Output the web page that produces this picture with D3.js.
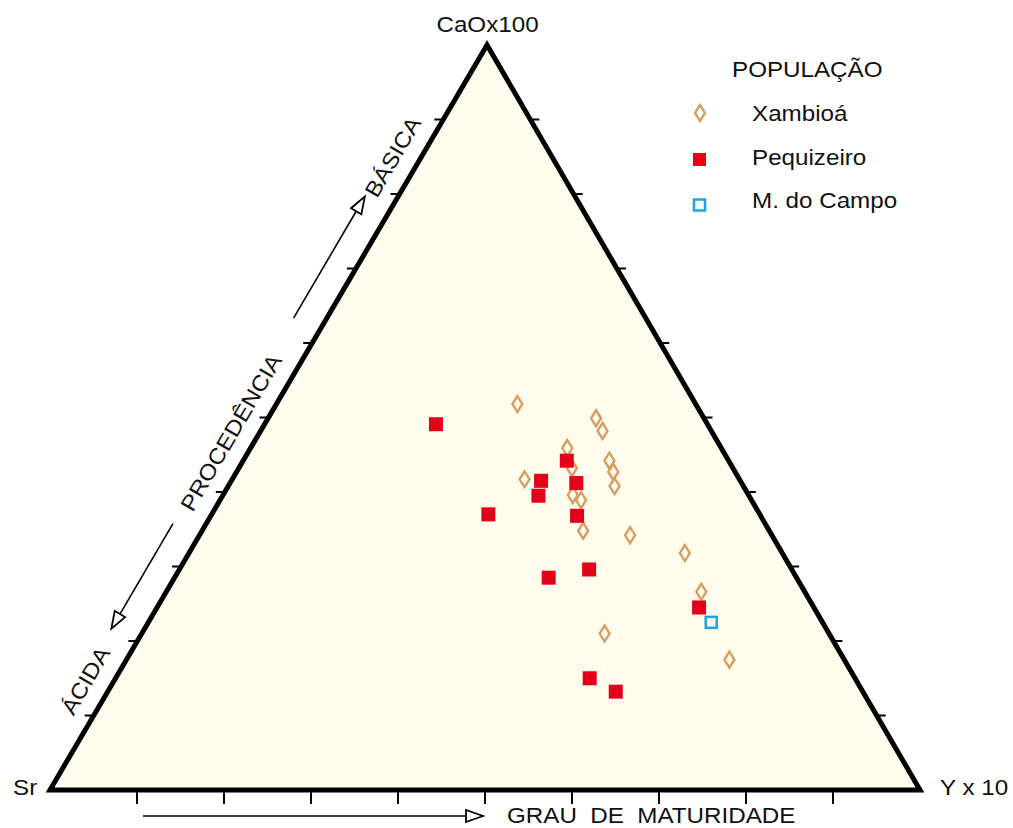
<!DOCTYPE html>
<html>
<head>
<meta charset="utf-8">
<script src="https://cdn.jsdelivr.net/npm/d3@7"></script>
<style>
  html, body { margin: 0; padding: 0; background: #ffffff; }
  svg { display: block; }
  text { font-family: "Liberation Sans", Arial, Helvetica, sans-serif; fill: #111; white-space: pre; }
</style>
</head>
<body>
<svg id="chart" width="1013" height="828"></svg>
<script>
// Compositions in percent: CaO x100, Sr, Y x10
const xambiCaO = [51.8, 49.9, 48.2, 45.9, 43.2, 44.2, 42.7, 40.8, 41.7, 39.6, 38.9, 34.8, 34.2, 31.8, 26.6, 21.0, 17.5];
const xambiSr  = [20.5, 12.4, 12.5, 17.7, 18.5, 13.7, 14.0, 14.8, 24.7, 20.2, 19.6, 21.4, 16.3, 11.2, 11.9, 25.8, 13.2];
const xambiY   = [27.7, 37.7, 39.3, 36.4, 38.3, 42.1, 43.3, 44.4, 33.6, 40.2, 41.5, 43.8, 49.5, 57.0, 61.5, 53.2, 69.3];

const pequiCaO = [49.1, 44.2, 41.5, 41.2, 39.5, 37.0, 36.8, 29.6, 28.5, 24.5, 15.0, 13.2];
const pequiSr  = [31.2, 18.6, 22.9, 19.0, 24.2, 31.2, 21.1, 23.3, 28.5, 13.2, 30.5, 28.4];
const pequiY   = [19.7, 37.2, 35.6, 39.8, 36.3, 31.8, 42.1, 47.1, 43.0, 62.3, 54.5, 58.4];

const campoCaO = [22.5];
const campoSr  = [12.8];
const campoY   = [64.7];

const vertexLabels = ["CaOx100", "Sr", "Y x 10"];
const legendTitle = "POPULAÇÃO";
const seriesNames = ["Xambioá", "Pequizeiro", "M. do Campo"];
const sideLabels = ["BÁSICA", "PROCEDÊNCIA", "ÁCIDA"];
const baseLabel = "GRAU  DE  MATURIDADE";
const tickFractions = d3.range(1, 10).map(i => i / 10);

// ---- geometry ----
const left = 50, right = 920, base = 790, apexX = 487, apexY = 45;
const apexShare = (apexX - left) / (right - left);
const x = d3.scaleLinear().domain([0, 100]).range([left, right]);
const y = d3.scaleLinear().domain([0, 100]).range([base, apexY]);

// ternary point -> screen
function project(cao, sr, yy) {
  const s = cao + sr + yy;
  const a = cao / s * 100, c = yy / s * 100;
  return [x(c + a * apexShare), y(a)];
}

const svg = d3.select("#chart");
const SX = 1.1; // horizontal stretch of lettering

const A = project(100, 0, 0), B = project(0, 100, 0), C = project(0, 0, 100);

// triangle body
svg.append("path")
  .attr("d", d3.line()([A, B, C]) + "Z")
  .attr("fill", "#fffcee")
  .attr("stroke", "#000")
  .attr("stroke-width", 5)
  .attr("stroke-linejoin", "miter");

// ticks
const tickG = svg.append("g").attr("stroke", "#000").attr("stroke-width", 2);
tickFractions.forEach(t => {
  const pl = project(t * 100, (1 - t) * 100, 0);
  tickG.append("line").attr("x1", pl[0]).attr("y1", pl[1]).attr("x2", pl[0] - 9).attr("y2", pl[1]);
  const pr = project(t * 100, 0, (1 - t) * 100);
  tickG.append("line").attr("x1", pr[0]).attr("y1", pr[1]).attr("x2", pr[0] + 9).attr("y2", pr[1]);
  const pb = project(0, (1 - t) * 100, t * 100);
  tickG.append("line").attr("x1", pb[0]).attr("y1", pb[1]).attr("x2", pb[0]).attr("y2", pb[1] + 14);
});

// text helper
function label(txt, px, py, opts = {}) {
  const rot = opts.rotate || 0;
  return svg.append("text")
    .attr("transform", `translate(${px},${py}) rotate(${rot}) scale(${SX},1)`)
    .attr("text-anchor", opts.anchor || "start")
    .attr("font-size", opts.size || 22)
    .attr("xml:space", "preserve")
    .text(txt);
}

// vertex labels
label(vertexLabels[0], 487.5, 32, { anchor: "middle" });
label(vertexLabels[1], 13, 795);
label(vertexLabels[2], 940, 795);
label(baseLabel, 507, 823);

// side-edge direction and outward normal (left edge, Sr -> CaO)
const edgeLen = Math.hypot(A[0] - B[0], A[1] - B[1]);
const ux = (A[0] - B[0]) / edgeLen, uy = (A[1] - B[1]) / edgeLen;
const nx = uy, ny = -ux; // outward (left-up)
const edgeAngle = Math.atan2(uy, ux) * 180 / Math.PI;
function alongEdge(f, off) {
  return [B[0] + ux * edgeLen * f + nx * off, B[1] + uy * edgeLen * f + ny * off];
}

// rotated side labels
[[sideLabels[0], 0.833], [sideLabels[1], 0.463], [sideLabels[2], 0.130]].forEach(([txt, f]) => {
  const p = alongEdge(f, 17);
  label(txt, p[0], p[1], { anchor: "middle", rotate: edgeAngle });
});

// open-headed arrows
function arrow(s, t) {
  const len = Math.hypot(t[0] - s[0], t[1] - s[1]);
  const dx = (t[0] - s[0]) / len, dy = (t[1] - s[1]) / len;
  const hl = 17, hw = 6;
  const bx = t[0] - dx * hl, by = t[1] - dy * hl;
  svg.append("line").attr("x1", s[0]).attr("y1", s[1]).attr("x2", bx).attr("y2", by)
    .attr("stroke", "#000").attr("stroke-width", 1.6);
  svg.append("path")
    .attr("d", d3.line()([[bx - dy * hw, by + dx * hw], t, [bx + dy * hw, by - dx * hw]]) + "Z")
    .attr("fill", "#fff").attr("stroke", "#000").attr("stroke-width", 1.8);
}
arrow(alongEdge(0.614, 28.7), alongEdge(0.777, 28.7));
arrow(alongEdge(0.338, 28.7), alongEdge(0.197, 28.7));
arrow([143, 816], [483, 816]);

// markers
const diamond = "M0,-8L5,0L0,8L-5,0Z";
function pts(cao, sr, yy) { return cao.map((v, i) => project(v, sr[i], yy[i])); }

svg.append("g").selectAll("path").data(pts(xambiCaO, xambiSr, xambiY)).join("path")
  .attr("d", diamond)
  .attr("transform", d => `translate(${d[0]},${d[1]})`)
  .attr("fill", "none").attr("stroke", "#d69e62").attr("stroke-width", 2.4);

svg.append("g").selectAll("rect").data(pts(pequiCaO, pequiSr, pequiY)).join("rect")
  .attr("x", d => d[0] - 7).attr("y", d => d[1] - 7)
  .attr("width", 14).attr("height", 14)
  .attr("fill", "#e2001a");

svg.append("g").selectAll("rect").data(pts(campoCaO, campoSr, campoY)).join("rect")
  .attr("x", d => d[0] - 5.5).attr("y", d => d[1] - 5.5)
  .attr("width", 11).attr("height", 11)
  .attr("fill", "none").attr("stroke", "#1ba5e0").attr("stroke-width", 2.5);

// legend
label(legendTitle, 732, 77);
const lg = svg.append("g");
lg.append("path").attr("d", diamond).attr("transform", "translate(700,113)")
  .attr("fill", "none").attr("stroke", "#d69e62").attr("stroke-width", 2.4);
lg.append("rect").attr("x", 693).attr("y", 153).attr("width", 13).attr("height", 13).attr("fill", "#e2001a");
lg.append("rect").attr("x", 694).attr("y", 199.5).attr("width", 11).attr("height", 11)
  .attr("fill", "none").attr("stroke", "#1ba5e0").attr("stroke-width", 2.5);
label(seriesNames[0], 752, 121);
label(seriesNames[1], 752, 165);
label(seriesNames[2], 752, 208);
</script>
</body>
</html>
